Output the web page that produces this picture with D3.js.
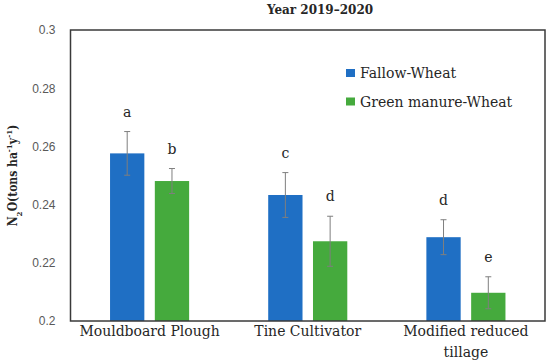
<!DOCTYPE html>
<html>
<head>
<meta charset="utf-8">
<script src="https://cdn.jsdelivr.net/npm/d3@7/dist/d3.min.js"></script>
<style>
  body { margin: 0; background: #fff; }
  svg { font-family: "Palatino Linotype", "Book Antiqua", "DejaVu Serif", serif; }
</style>
</head>
<body>
<div id="chart"></div>
<script>
var categories = ['Mouldboard Plough', 'Tine Cultivator', 'Modified reduced tillage']
var seriesNames = ['Fallow-Wheat', 'Green manure-Wheat']
var fallowWheat = [0.2576, 0.2433, 0.2288]
var fallowWheatErr = [0.0075, 0.0077, 0.0060]
var greenManure = [0.2481, 0.2274, 0.2097]
var greenManureErr = [0.0043, 0.0086, 0.0055]
var fallowLetters = ['a', 'c', 'd']
var greenLetters = ['b', 'd', 'e']
var yTicks = [0.2, 0.22, 0.24, 0.26, 0.28, 0.3]

var colors = ['#1F6FC4', '#45AA3D']
var width = 550
var height = 364
var margin = { top: 30, right: 5, bottom: 43, left: 70.5 }

var svg = d3.select('#chart')
  .append('svg')
  .attr('width', width)
  .attr('height', height)

var x0 = d3.scaleBand()
  .domain(categories)
  .range([margin.left, width - margin.right])
  .paddingInner(0.5)
  .paddingOuter(0.25)

var x1 = d3.scaleBand()
  .domain(seriesNames)
  .range([0, x0.bandwidth()])
  .paddingInner(0.234)

var y = d3.scaleLinear()
  .domain([0.2, 0.3])
  .range([height - margin.bottom, margin.top])

// 组合数据
var rows = []
categories.forEach(function (c, i) {
  rows.push({ cat: c, s: seriesNames[0], v: fallowWheat[i], e: fallowWheatErr[i], l: fallowLetters[i], color: colors[0] })
  rows.push({ cat: c, s: seriesNames[1], v: greenManure[i], e: greenManureErr[i], l: greenLetters[i], color: colors[1] })
})

// 纵坐标
var yAxis = d3.axisLeft(y)
  .tickValues(yTicks)
  .tickSize(0)
  .tickPadding(15)
  .tickFormat(d3.format('~g'))

svg.append('g')
  .attr('transform', 'translate(' + margin.left + ',0)')
  .call(yAxis)
  .call(function (g) {
    g.select('.domain').remove()
    g.selectAll('.tick text')
      .attr('fill', '#595959')
      .style('font-size', '12px')
      .style('font-family', 'inherit')
  })

// 柱状图
svg.append('g')
  .selectAll('rect')
  .data(rows)
  .enter()
  .append('rect')
  .attr('x', function (d) { return x0(d.cat) + x1(d.s) })
  .attr('y', function (d) { return y(d.v) })
  .attr('width', x1.bandwidth())
  .attr('height', function (d) { return y(0.2) - y(d.v) })
  .attr('fill', function (d) { return d.color })

// 误差线
var err = svg.append('g')
  .attr('stroke', '#7f7f7f')
  .attr('stroke-width', 1)
  .selectAll('g')
  .data(rows)
  .enter()
  .append('g')
  .attr('transform', function (d) {
    return 'translate(' + (x0(d.cat) + x1(d.s) + x1.bandwidth() / 2) + ',0)'
  })
err.append('line')
  .attr('y1', function (d) { return y(d.v + d.e) })
  .attr('y2', function (d) { return y(d.v - d.e) })
err.append('line')
  .attr('x1', -3).attr('x2', 3)
  .attr('y1', function (d) { return y(d.v + d.e) })
  .attr('y2', function (d) { return y(d.v + d.e) })
err.append('line')
  .attr('x1', -3).attr('x2', 3)
  .attr('y1', function (d) { return y(d.v - d.e) })
  .attr('y2', function (d) { return y(d.v - d.e) })

// 显著性字母
svg.append('g')
  .selectAll('text')
  .data(rows)
  .enter()
  .append('text')
  .attr('x', function (d) { return x0(d.cat) + x1(d.s) + x1.bandwidth() / 2 })
  .attr('y', function (d) { return y(d.v + d.e) - 15 })
  .attr('text-anchor', 'middle')
  .attr('fill', '#262626')
  .style('font-size', '14px')
  .text(function (d) { return d.l })

// 边框
svg.append('rect')
  .attr('x', margin.left)
  .attr('y', margin.top)
  .attr('width', width - margin.left - margin.right)
  .attr('height', height - margin.top - margin.bottom)
  .attr('fill', 'none')
  .attr('stroke', '#3a3a3a')
  .attr('stroke-width', 1.5)

// 横坐标标签
var catLabels = svg.append('g')
  .selectAll('text')
  .data(categories)
  .enter()
  .append('text')
  .attr('x', function (d) { return x0(d) + x0.bandwidth() / 2 })
  .attr('y', 336)
  .attr('text-anchor', 'middle')
  .attr('fill', '#262626')
  .style('font-size', '14px')
catLabels.each(function (d) {
  var t = d3.select(this)
  var lines = d === 'Modified reduced tillage' ? ['Modified reduced', 'tillage'] : [d]
  lines.forEach(function (s, i) {
    t.append('tspan')
      .attr('x', t.attr('x'))
      .attr('dy', i === 0 ? 0 : 21)
      .text(s)
  })
})

// 标题
svg.append('text')
  .attr('x', 320)
  .attr('y', 14)
  .attr('text-anchor', 'middle')
  .attr('fill', '#262626')
  .style('font-size', '12px')
  .style('font-weight', 'bold')
  .text('Year 2019\u20132020')

// 纵坐标标签
var yl = svg.append('text')
  .attr('transform', 'translate(17,' + ((margin.top + height - margin.bottom) / 2) + ') rotate(-90)')
  .attr('text-anchor', 'middle')
  .attr('fill', '#262626')
  .style('font-family', '"DejaVu Serif Condensed", "DejaVu Serif", serif')
  .style('font-weight', 'bold')
  .style('font-size', '12px')
yl.append('tspan').text('N')
yl.append('tspan').attr('baseline-shift', 'sub').style('font-size', '8px').text('2')
yl.append('tspan').text('O(tons ha')
yl.append('tspan').attr('baseline-shift', 'super').style('font-size', '8px').text('-1')
yl.append('tspan').text('y')
yl.append('tspan').attr('baseline-shift', 'super').style('font-size', '8px').text('-1')
yl.append('tspan').text(')')

// 图例
var legend = svg.append('g')
  .attr('transform', 'translate(346,73)')
seriesNames.forEach(function (name, i) {
  var g = legend.append('g')
    .attr('transform', 'translate(0,' + (i * 28.5) + ')')
  g.append('rect')
    .attr('x', 0)
    .attr('y', -4)
    .attr('width', 9)
    .attr('height', 8)
    .attr('fill', colors[i])
  g.append('text')
    .attr('x', 14)
    .attr('y', 5)
    .attr('fill', '#262626')
    .style('font-size', '14px')
    .text(name)
})
</script>
</body>
</html>
